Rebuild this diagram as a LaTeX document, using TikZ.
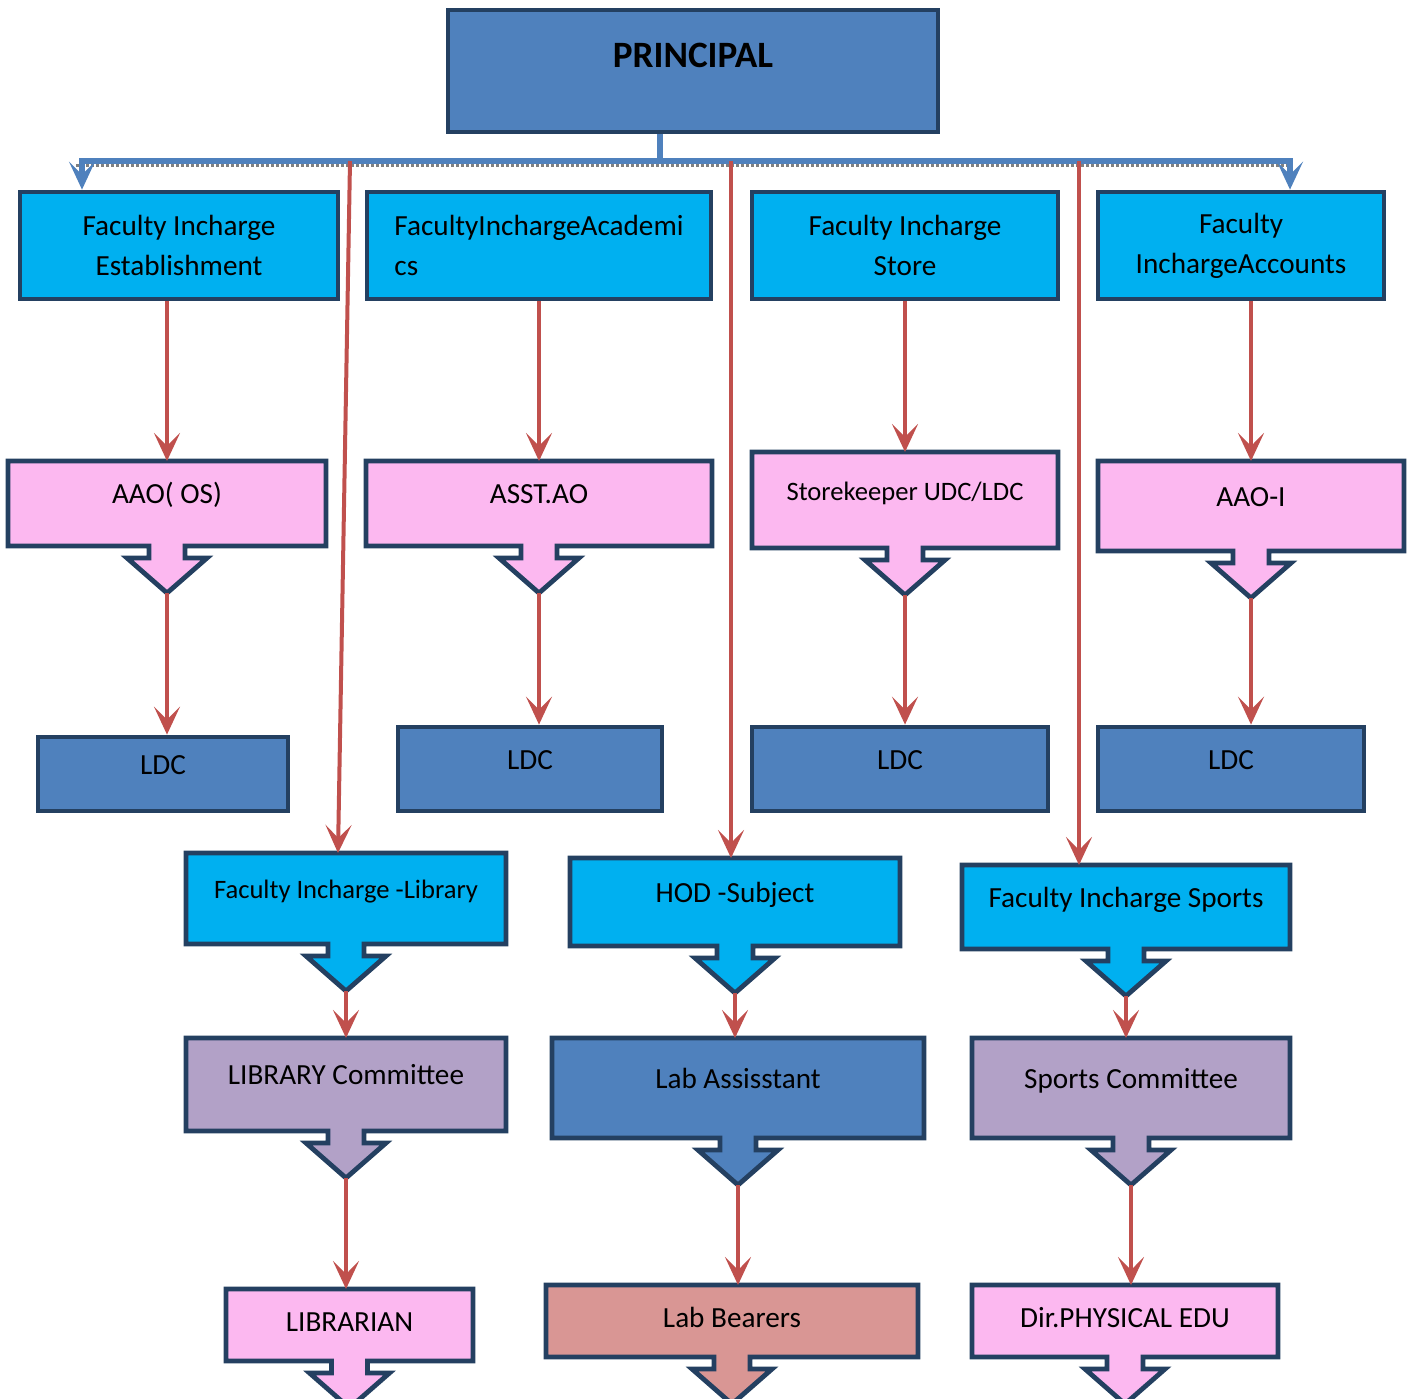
\documentclass[tikz,border=0pt]{standalone}
\usepackage{fontspec}
\setmainfont{Carlito}
\usepackage{tikz}
\usetikzlibrary{calc,arrows.meta}
\definecolor{myblue}{RGB}{79,129,189}
\definecolor{mycyan}{RGB}{0,176,240}
\definecolor{mypink}{RGB}{252,184,240}
\definecolor{mylilac}{RGB}{178,161,199}
\definecolor{myrose}{RGB}{217,150,148}
\definecolor{myred}{RGB}{192,80,77}
\definecolor{myedge}{RGB}{36,64,97}
\pgfdeclarelayer{back}
\pgfsetlayers{back,main}
% box with a down arrow under it, drawn behind the node text
\newcommand{\calloutarrow}[2]{%
  \begin{pgfonlayer}{back}
    \filldraw[fill=#2,draw=myedge,line width=2.4pt]
      (#1.north west) -- (#1.north east) -- (#1.south east)
      -- ($(#1.south)+(18,0)$) -- ($(#1.south)+(18,12)$) -- ($(#1.south)+(40,12)$)
      -- ($(#1.south)+(0,47)$) -- ($(#1.south)+(-40,12)$) -- ($(#1.south)+(-18,12)$)
      -- ($(#1.south)+(-18,0)$) -- (#1.south west) -- cycle;
  \end{pgfonlayer}
  \coordinate (#1-tip) at ($(#1.south)+(0,47)$);}

\begin{document}
\begin{tikzpicture}[
          x=0.5pt,y=-0.5pt,
          font=\fontsize{14.6}{20}\selectfont,
          box/.style={draw=myedge,line width=2.4pt,inner sep=2pt},
          callbox/.style={inner sep=2pt,outer sep=0pt},
          mid/.style={text height=6pt,text depth=6pt},
          low/.style={text height=7pt,text depth=1pt},
          small/.style={font=\fontsize{13.3}{16}\selectfont},
          tip/.style={-{Stealth[length=14pt,width=13pt,inset=6.5pt]}},
          redarrow/.style={draw=myred,line width=2pt,tip},
          blueline/.style={draw=myblue,line width=2.6pt}
          ]
          \useasboundingbox (0,0) rectangle (1413,1398);

          % the principal
          \node[box,fill=myblue,minimum width=245pt,minimum height=61pt,
                text height=6pt,text depth=10pt,font=\fontsize{18.6}{22}\selectfont\bfseries]
                (p) at (693,71) {PRINCIPAL};

          % the faculty row
          \node[box,fill=mycyan,minimum width=159pt,minimum height=53.5pt,align=center]
                (f1) at (179,245.5) {Faculty Incharge\\Establishment};
          \node[box,fill=mycyan,minimum width=172pt,minimum height=53.5pt,align=left]
                (f2) at (539,245.5) {FacultyInchargeAcademi\\cs};
          \node[box,fill=mycyan,minimum width=153pt,minimum height=53.5pt,align=center]
                (f3) at (905,245.5) {Faculty Incharge\\Store};
          \node[box,fill=mycyan,minimum width=143pt,minimum height=53.5pt,align=center]
                (f4) at (1241,245.5) {Faculty\\InchargeAccounts};

          % the officers
          \node[callbox,mid,minimum width=159pt,minimum height=42.5pt] (a1) at (167,503.5) {AAO( OS)};
          \node[callbox,mid,minimum width=173pt,minimum height=42.5pt] (a2) at (539,503.5) {ASST.AO};
          \node[callbox,mid,small,minimum width=153pt,minimum height=48pt] (a3) at (905,500) {Storekeeper UDC/LDC};
          \node[callbox,mid,minimum width=153pt,minimum height=45pt] (a4) at (1251,506) {AAO-I};
          \foreach \i in {1,...,4} {\calloutarrow{a\i}{mypink}}

          % the clerks
          \foreach \i/\xc/\yc/\w/\h in {1/163/774/125pt/37pt,2/530/769/132pt/42pt,
                                        3/900/769/148pt/42pt,4/1231/769/133pt/42pt}
            \node[box,mid,fill=myblue,minimum width=\w,minimum height=\h] (l\i) at (\xc,\yc) {LDC};

          % the lower heads
          \node[callbox,mid,small,minimum width=160pt,minimum height=45.5pt] (g1) at (346,898.5) {Faculty Incharge -Library};
          \node[callbox,mid,minimum width=165pt,minimum height=44pt] (g2) at (735,902) {HOD -Subject};
          \node[callbox,mid,minimum width=164pt,minimum height=42pt] (g3) at (1126,907) {Faculty Incharge Sports};
          \foreach \i in {1,2,3} {\calloutarrow{g\i}{mycyan}}

          % the committees
          \node[callbox,mid,minimum width=160pt,minimum height=46.5pt] (c1) at (346,1084.5) {LIBRARY Committee};
          \node[callbox,mid,minimum width=186pt,minimum height=50pt] (c2) at (738,1088) {Lab Assisstant};
          \node[callbox,mid,minimum width=159pt,minimum height=50pt] (c3) at (1131,1088) {Sports Committee};
          \calloutarrow{c1}{mylilac}
          \calloutarrow{c2}{myblue}
          \calloutarrow{c3}{mylilac}

          % the bottom row
          \node[callbox,low,minimum width=123.5pt,minimum height=36pt] (b1) at (349.5,1325) {LIBRARIAN};
          \node[callbox,low,minimum width=186pt,minimum height=36pt] (b2) at (732,1321) {Lab Bearers};
          \node[callbox,low,minimum width=153pt,minimum height=36pt] (b3) at (1125,1321) {Dir.PHYSICAL EDU};
          \calloutarrow{b1}{mypink}
          \calloutarrow{b2}{myrose}
          \calloutarrow{b3}{mypink}

          % the bar under the principal
          \coordinate (top) at (660,161);
          \coordinate (e1) at (82,161);
          \coordinate (e4) at (1290,161);
          \coordinate (d1) at (350,161);
          \coordinate (d2) at (731,161);
          \coordinate (d3) at (1079,161);
          \draw[gray,line width=1.5pt,densely dotted] ($(e1)+(-6,4)$) -- ($(e4)+(0,4)$);
          \draw[blueline] (p.south -| top) -- (top);
          \draw[blueline,tip] (top) -- (e1) -- (f1.north -| e1);
          \draw[blueline,tip] (top) -- (e4) -- (f4.north -| e4);

          % the edges
          \draw[redarrow] (d1) -- ($(g1.north)+(-8,0)$);
          \draw[redarrow] (d2) -- (g2.north -| d2);
          \draw[redarrow] (d3) -- (g3.north -| d3);
          \foreach \i in {1,...,4} {
            \draw[redarrow] (f\i.south -| a\i.north) -- (a\i.north);
            \draw[redarrow] (a\i-tip) -- (l\i.north -| a\i-tip);
          }
          \foreach \i in {1,2,3} {
            \draw[redarrow] (g\i-tip) -- (c\i.north -| g\i-tip);
            \draw[redarrow] (c\i-tip) -- (b\i.north -| c\i-tip);
          }
        \end{tikzpicture}
\end{document}
